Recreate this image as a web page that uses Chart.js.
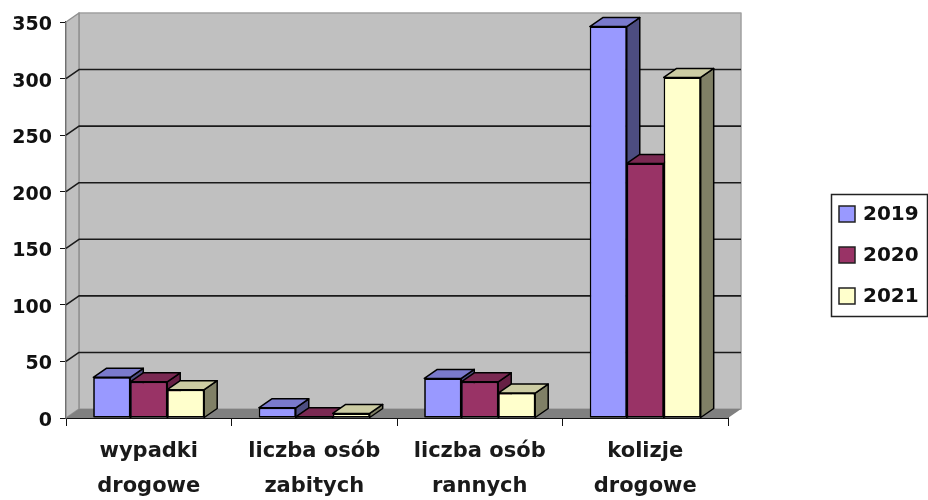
<!DOCTYPE html>
<html lang="pl">
<head>
<meta charset="utf-8">
<title>Wypadki i kolizje</title>
<script src="https://cdn.jsdelivr.net/npm/chart.js@4/dist/chart.umd.js"></script>
<style>
  html, body { margin: 0; padding: 0; background: #fff; }
  #wrap { position: relative; width: 928px; height: 500px; }
  canvas { filter: blur(0.5px); }
</style>
</head>
<body>
<div id="wrap"><canvas id="chart"></canvas></div>
<script>
const categories = [["wypadki", "drogowe"], ["liczba osób", "zabitych"], ["liczba osób", "rannych"], ["kolizje", "drogowe"]];
const seriesNames = ["2019", "2020", "2021"];
const values2019 = [36, 9, 35, 346];
const values2020 = [32, 1, 32, 225];
const values2021 = [25, 4, 22, 301];

const frontColors = ["#9999ff", "#993366", "#ffffcc"];
const topColors = ["#7a7acc", "#7a2952", "#cccca3"];
const sideColors = ["#4d4d80", "#661f44", "#808066"];

const depthX = 13;
const depthY = 9;
const FONT = '"DejaVu Sans", sans-serif';

function fillPoly(ctx, points, fill, stroke, width) {
  ctx.beginPath();
  points.forEach(([x, y], i) => (i ? ctx.lineTo(x, y) : ctx.moveTo(x, y)));
  ctx.closePath();
  ctx.fillStyle = fill;
  ctx.fill();
  if (stroke) {
    ctx.strokeStyle = stroke;
    ctx.lineWidth = width;
    ctx.stroke();
  }
}

// back wall, side wall, floor and the gridlines that run across them
const wallPlugin = {
  id: "wall",
  beforeDatasetsDraw(chart) {
    const { ctx, chartArea: a, scales } = chart;
    ctx.save();
    ctx.lineJoin = "round";
    fillPoly(ctx, [[a.left + depthX, a.top - depthY], [a.right + depthX, a.top - depthY], [a.right + depthX, a.bottom - depthY], [a.left + depthX, a.bottom - depthY]], "#c0c0c0", "#a0a0a0", 1.5);
    fillPoly(ctx, [[a.left, a.top], [a.left + depthX, a.top - depthY], [a.left + depthX, a.bottom - depthY], [a.left, a.bottom]], "#c0c0c0", "#909090", 1.5);
    fillPoly(ctx, [[a.left, a.bottom], [a.left + depthX, a.bottom - depthY], [a.right + depthX, a.bottom - depthY], [a.right, a.bottom]], "#808080");
    ctx.strokeStyle = "#1a1a1a";
    ctx.lineWidth = 1.6;
    scales.y.ticks.forEach((tick) => {
      if (tick.value === 0 || tick.value === 350) return;
      const y = scales.y.getPixelForValue(tick.value);
      ctx.beginPath();
      ctx.moveTo(a.left, y);
      ctx.lineTo(a.left + depthX, y - depthY);
      ctx.lineTo(a.right + depthX, y - depthY);
      ctx.stroke();
    });
    ctx.restore();
  },
  // redraw each series in order so a later front face covers the earlier side face
  afterDatasetsDraw(chart) {
    const { ctx } = chart;
    ctx.save();
    ctx.lineJoin = "round";
    chart.data.datasets.forEach((ds, i) => {
      chart.getDatasetMeta(i).data.forEach((bar) => {
        const half = bar.width / 2;
        const l = bar.x - half;
        const r = bar.x + half;
        const t = bar.y;
        const b = bar.base;
        fillPoly(ctx, [[r, t], [r + depthX, t - depthY], [r + depthX, b - depthY], [r, b]], sideColors[i], "#000", 1.5);
        fillPoly(ctx, [[l, t], [l + depthX, t - depthY], [r + depthX, t - depthY], [r, t]], topColors[i], "#000", 1.5);
        bar.draw(ctx);
      });
    });
    ctx.restore();
  },
  afterDraw(chart) {
    const { ctx } = chart;
    ctx.save();
    ctx.strokeStyle = "#222";
    ctx.lineWidth = 1.5;
    ctx.strokeRect(831.5, 194.5, 96, 122);
    ctx.font = "bold 20px " + FONT;
    ctx.textBaseline = "middle";
    chart.data.datasets.forEach((ds, i) => {
      const cy = 214 + i * 41;
      ctx.fillStyle = frontColors[i];
      ctx.fillRect(839, cy - 8, 16, 16);
      ctx.strokeStyle = "#222";
      ctx.strokeRect(839, cy - 8, 16, 16);
      ctx.fillStyle = "#111";
      ctx.fillText(ds.label, 863, cy + 1);
    });
    ctx.restore();
  }
};

new Chart(document.getElementById("chart"), {
  type: "bar",
  data: {
    labels: categories,
    datasets: [
      { label: seriesNames[0], data: values2019, backgroundColor: frontColors[0] },
      { label: seriesNames[1], data: values2020, backgroundColor: frontColors[1] },
      { label: seriesNames[2], data: values2021, backgroundColor: frontColors[2] }
    ]
  },
  plugins: [wallPlugin],
  options: {
    responsive: true,
    maintainAspectRatio: false,
    animation: false,
    layout: { padding: { left: 0, top: 22, right: 200, bottom: 0 } },
    datasets: {
      bar: {
        barPercentage: 1,
        categoryPercentage: 0.67,
        borderColor: "#000",
        borderWidth: 1.5,
        borderSkipped: false
      }
    },
    scales: {
      x: {
        afterFit: (axis) => { axis.height = 82; },
        border: { color: "#111", width: 2 },
        grid: { drawOnChartArea: false, color: "#111", tickLength: 8 },
        ticks: {
          color: "#1a1a1a",
          padding: 8,
          maxRotation: 0,
          autoSkip: false,
          font: { family: FONT, size: 21, weight: "bold", lineHeight: 1.67 }
        }
      },
      y: {
        min: 0,
        max: 350,
        afterFit: (axis) => { axis.width = 66; },
        border: { color: "#111", width: 2 },
        grid: { drawOnChartArea: false, color: "#111", tickLength: 6 },
        ticks: {
          stepSize: 50,
          color: "#111",
          padding: 8,
          labelOffset: 3,
          font: { family: FONT, size: 19, weight: "bold" }
        }
      }
    },
    plugins: { legend: { display: false }, tooltip: { enabled: false } }
  }
});
</script>
</body>
</html>
